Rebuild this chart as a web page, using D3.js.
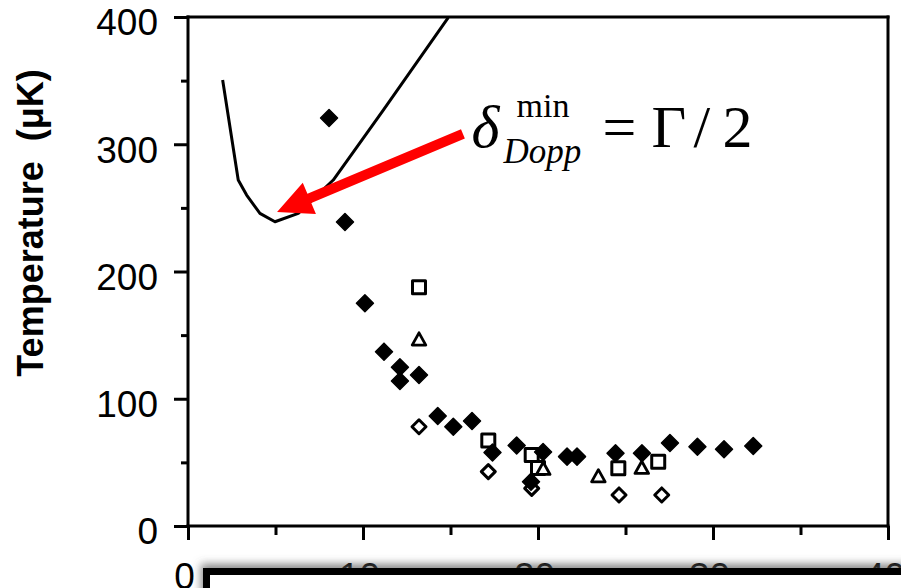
<!DOCTYPE html>
<html><head><meta charset="utf-8">
<script src="https://cdn.jsdelivr.net/npm/d3@7"></script>
<style>body{margin:0;background:#fff}svg{display:block}</style>
</head><body><svg id="c" width="901" height="588"></svg>
<script>
// ---- data ----
const xTicks = [0, 10, 20, 30, 40];
const xMinor = [5, 15, 25, 35];
const yTicks = [0, 100, 200, 300, 400];
const yMinor = [50, 150, 250, 350];
const yLabel = "Temperature  (\u03bcK)";

const filledDiamonds = [
  [8.06,320.6],[8.97,238.9],[10.11,175.0],[11.2,137.0],[12.11,124.7],[12.11,113.9],
  [13.2,118.7],[14.27,86.4],[15.16,78.0],[16.23,82.5],[17.4,57.8],[18.78,63.3],
  [20.29,58.2],[19.6,34.8],[21.66,54.5],[22.23,54.5],[24.43,57.1],[25.94,57.1],
  [27.54,65.2],[29.11,62.3],[30.63,60.3],[32.3,62.9]
];
const openSquares = [
  [13.2,187.6],[17.16,67.2],[19.64,55.8],[20.0,45.5],[24.59,45.3],[26.87,50.5]
];
const openTriangles = [
  [13.2,146.2],[20.3,44.5],[23.45,38.7],[25.93,45.3]
];
const openDiamonds = [
  [13.2,78.0],[17.16,42.7],[19.64,29.6],[24.63,24.4],[27.07,24.4]
];
const theoryCurve = [
  [1.98,350.5],[2.87,271.9],[3.35,260.1],[4.11,245.7],[4.97,239.1],
  [6.30,245.7],[8.30,271.9],[11.16,326.9],[14.87,399.5]
];
const arrowTip = [5.09, 246.8];
const arrowTail = [15.71, 308.1];
const annotAnchor = [16.2, 297.8];

// ---- chart ----
const svg = d3.select("#c");
const sx = d3.scaleLinear().domain([0, 40]).range([188, 888]);
const sy = d3.scaleLinear().domain([0, 400]).range([526, 17]);
const SANS = "'Liberation Sans', Arial, sans-serif";
const SERIF = "'Liberation Serif', 'Times New Roman', serif";

svg.append("rect").attr("width", 901).attr("height", 588).attr("fill", "#fff");

// axes
const yAx = d3.axisLeft(sy).tickValues(yTicks).tickSize(14).tickPadding(16);
const gy = svg.append("g").attr("transform", `translate(${sx(0)},0)`).call(yAx);
gy.select(".domain").remove();
gy.selectAll("line").attr("stroke", "#000").attr("stroke-width", 3);
gy.selectAll("text").attr("font-family", SANS).attr("font-size", 37).attr("dy", "0.48em").attr("fill", "#000");
const gym = svg.append("g").attr("transform", `translate(${sx(0)},0)`)
  .call(d3.axisLeft(sy).tickValues(yMinor).tickSize(7).tickFormat(""));
gym.select(".domain").remove();
gym.selectAll("line").attr("stroke", "#000").attr("stroke-width", 3);

const xAx = d3.axisBottom(sx).tickValues(xTicks).tickSize(14).tickPadding(23);
const gx = svg.append("g").attr("transform", `translate(0,${sy(0)})`).call(xAx);
gx.select(".domain").remove();
gx.selectAll("line").attr("stroke", "#000").attr("stroke-width", 3);
gx.selectAll("text").attr("font-family", SANS).attr("font-size", 37).attr("fill", "#000").attr("dx", "-4");
const gxm = svg.append("g").attr("transform", `translate(0,${sy(0)})`)
  .call(d3.axisBottom(sx).tickValues(xMinor).tickSize(9).tickFormat(""));
gxm.select(".domain").remove();
gxm.selectAll("line").attr("stroke", "#000").attr("stroke-width", 3);

// frame
const frame = [
  [sx(0), sy(0), sx(0), sy(400)],
  [sx(0), sy(0), sx(40), sy(0)],
  [sx(0), sy(400), sx(40), sy(400)],
  [sx(40), sy(0), sx(40), sy(400)]
];
svg.selectAll("line.frame").data(frame).join("line").attr("class", "frame")
  .attr("x1", d => d[0]).attr("y1", d => d[1]).attr("x2", d => d[2]).attr("y2", d => d[3])
  .attr("stroke", "#000").attr("stroke-width", 3).attr("stroke-linecap", "square");

// y label
svg.append("text")
  .attr("transform", `translate(43,223) rotate(-90)`)
  .attr("text-anchor", "middle").attr("font-family", SANS).attr("font-weight", "bold")
  .attr("font-size", 36).attr("fill", "#000").attr("xml:space", "preserve").text(yLabel);

// theory curve
svg.append("path").datum(theoryCurve)
  .attr("d", d3.line().x(d => sx(d[0])).y(d => sy(d[1])))
  .attr("fill", "none").attr("stroke", "#000").attr("stroke-width", 3).attr("stroke-linejoin", "round");

// markers
const diamond = r => `M0,${-r}L${r},0L0,${r}L${-r},0Z`;
const square = s => `M${-s},${-s}H${s}V${s}H${-s}Z`;
const tri = s => `M0,${-s*1.05}L${s},${s*0.75}L${-s},${s*0.75}Z`;
function markers(data, d, fill, stroke, sw) {
  svg.append("g").selectAll("path").data(data).join("path")
    .attr("transform", p => `translate(${sx(p[0])},${sy(p[1])})`)
    .attr("d", d).attr("fill", fill).attr("stroke", stroke).attr("stroke-width", sw)
    .attr("stroke-linejoin", "round");
}
markers(openSquares, square(6.5), "#fff", "#000", 3);
markers(openTriangles, tri(6.8), "#fff", "#000", 2.8);
markers(openDiamonds, diamond(7), "#fff", "#000", 3);
markers(filledDiamonds, diamond(8.5), "#000", "#000", 1.5);

// red arrow
(function () {
  const T = [sx(arrowTip[0]), sy(arrowTip[1])];
  const A = [sx(arrowTail[0]), sy(arrowTail[1])];
  const dx = A[0] - T[0], dy = A[1] - T[1], L = Math.hypot(dx, dy);
  const u = [dx / L, dy / L], n = [-u[1], u[0]];
  const hl = 35, hh = 17, sh = 5;
  const B = [T[0] + u[0] * hl, T[1] + u[1] * hl];
  const pts = [T,
    [B[0] + n[0] * hh, B[1] + n[1] * hh], [B[0] + n[0] * sh, B[1] + n[1] * sh],
    [A[0] + n[0] * sh, A[1] + n[1] * sh], [A[0] - n[0] * sh, A[1] - n[1] * sh],
    [B[0] - n[0] * sh, B[1] - n[1] * sh], [B[0] - n[0] * hh, B[1] - n[1] * hh]];
  svg.append("polygon").attr("points", pts.map(p => p.join(",")).join(" ")).attr("fill", "#ff0000");
})();

// annotation
(function () {
  const ax = sx(annotAnchor[0]), ay = sy(annotAnchor[1]);
  const g = svg.append("g").attr("font-family", SERIF).attr("fill", "#000");
  g.append("text").attr("x", ax).attr("y", ay).attr("font-size", 60).attr("font-style", "italic").text("\u03b4");
  g.append("text").attr("x", ax + 45).attr("y", ay - 30).attr("font-size", 34).text("min");
  g.append("text").attr("x", ax + 32).attr("y", ay + 16).attr("font-size", 35).attr("font-style", "italic").text("Dopp");
  g.append("text").attr("x", ax + 131).attr("y", ay).attr("font-size", 60).text("=");
  g.append("text").attr("x", ax + 180).attr("y", ay).attr("font-size", 60).text("\u0393");
  g.append("text").attr("x", ax + 222).attr("y", ay).attr("font-size", 60).text("/");
  g.append("text").attr("x", ax + 251).attr("y", ay).attr("font-size", 60).text("2");
})();

// covering box at the bottom
const defs = svg.append("defs");
const f = defs.append("filter").attr("id", "sh").attr("x", "-10%").attr("y", "-50%").attr("width", "120%").attr("height", "200%");
f.append("feDropShadow").attr("dx", -2).attr("dy", -4).attr("stdDeviation", 4).attr("flood-color", "#555").attr("flood-opacity", 0.7);
svg.append("rect").attr("x", 206.5).attr("y", 571.5).attr("width", 760).attr("height", 80)
  .attr("fill", "#fff").attr("stroke", "#000").attr("stroke-width", 7).attr("filter", "url(#sh)");
</script></body></html>
